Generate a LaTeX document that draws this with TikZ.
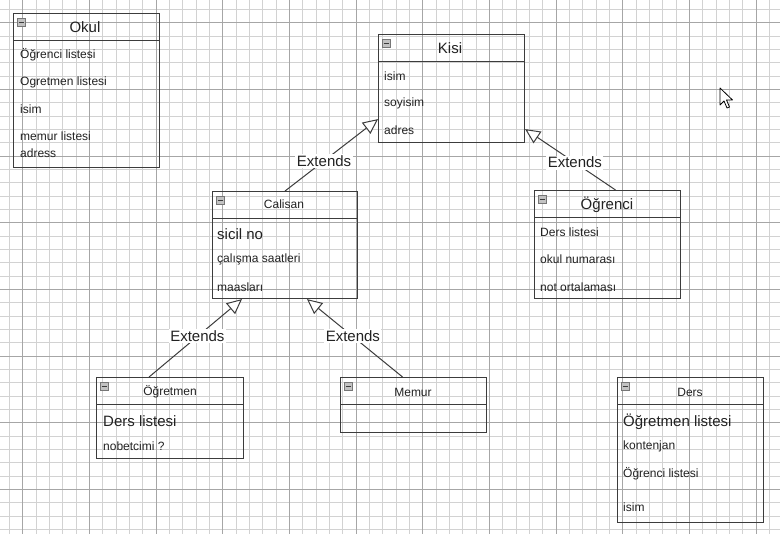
\documentclass[tikz,border=0pt]{standalone}
\usepackage{fontspec}
\setmainfont{Liberation Sans}
\usetikzlibrary{arrows.meta}
\usetikzlibrary{calc}

\definecolor{boxgray}{HTML}{3C3C3C}
\definecolor{gridminor}{HTML}{D2D2D2}
\definecolor{gridmajor}{HTML}{A6A6A6}
\definecolor{textgray}{HTML}{222222}
\definecolor{icongray}{HTML}{9A9A9A}

\tikzset{
  classbox/.style={draw=boxgray,line width=1.1pt,rectangle,anchor=north west,inner sep=0pt},
  headline/.style={draw=boxgray,line width=1.6pt},
  iconbox/.style={draw=boxgray!70,fill=icongray!60,line width=0.5pt},
  attr/.style={anchor=west,inner sep=0pt,text=textgray,font=\fontsize{12}{14}\selectfont},
  bigattr/.style={attr,font=\fontsize{15}{17}\selectfont},
  classname/.style={inner sep=0pt,text=textgray,font=\fontsize{12}{14}\selectfont},
  bigclassname/.style={classname,font=\fontsize{15}{17}\selectfont},
  extends/.style={draw=boxgray,line width=1pt,-{Triangle[length=15pt,width=14pt,fill=white,line width=1pt]}},
  extlabel/.style={fill=white,inner sep=1.5pt,text=textgray,font=\fontsize{15}{17}\selectfont},
}

\begin{document}
\begin{tikzpicture}[x=1pt,y=-1pt]
\useasboundingbox (0,0) rectangle (780,534);
\fill[white] (0,0) rectangle (780,534);
% grid
\foreach \i in {0,...,58} \draw[gridminor,line width=0.6pt] ({9.4+13.333*\i},0) -- ++(0,534);
\foreach \j in {0,...,39} \draw[gridminor,line width=0.6pt] (0,{9.4+13.333*\j}) -- ++(780,0);
\foreach \i in {0,...,11} \draw[gridmajor,line width=0.8pt] ({22.7+66.667*\i},0) -- ++(0,534);
\foreach \j in {0,...,7} \draw[gridmajor,line width=0.8pt] (0,{22.7+66.667*\j}) -- ++(780,0);

% class boxes
\draw (13,13) node (okul) [classbox,minimum width=146pt,minimum height=154pt] {};
\draw (378,34) node (kisi) [classbox,minimum width=146pt,minimum height=108pt] {};
\draw (212,191) node (calisan) [classbox,minimum width=145pt,minimum height=107pt] {};
\draw (534,190) node (ogrenci) [classbox,minimum width=146pt,minimum height=108pt] {};
\draw (96,377) node (ogretmen) [classbox,minimum width=147pt,minimum height=81pt] {};
\draw (340,377) node (memur) [classbox,minimum width=146pt,minimum height=55pt] {};
\draw (617,377) node (ders) [classbox,minimum width=146pt,minimum height=145pt] {};
\foreach \c in {okul,kisi,calisan,ogrenci,ogretmen,memur,ders} {
  \draw[headline] ($(\c.north west)+(0,27.5)$) -- ($(\c.north east)+(0,27.5)$);
  \draw[iconbox] ($(\c.north west)+(4,5)$) rectangle ++(8,8);
  \draw[boxgray,line width=0.9pt] ($(\c.north west)+(5.5,9)$) -- ++(5,0);
}

% Okul
\draw (85,27) node (okulname) [bigclassname] {Okul};
\draw (20,55) node (okul1) [attr] {Öğrenci listesi};
\draw (20,82) node (okul2) [attr] {Ogretmen listesi};
\draw (20,109) node (okul3) [attr] {isim};
\draw (20,136) node (okul4) [attr] {memur listesi};
\draw (20,153) node (okul5) [attr] {adress};
% Kisi
\draw (450,48) node (kisiname) [bigclassname] {Kisi};
\draw (384,76) node (kisi1) [attr] {isim};
\draw (384,103) node (kisi2) [attr] {soyisim};
\draw (384,130) node (kisi3) [attr] {adres};
% Calisan
\draw (284,204) node (calisanname) [classname] {Calisan};
\draw (217,234) node (calisan1) [bigattr] {sicil no};
\draw (217,259) node (calisan2) [attr] {çalışma saatleri};
\draw (217,287) node (calisan3) [attr] {maasları};
% Ogrenci
\draw (607,205) node (ogrenciname) [bigclassname] {Öğrenci};
\draw (540,232) node (ogrenci1) [attr] {Ders listesi};
\draw (540,259) node (ogrenci2) [attr] {okul numarası};
\draw (540,287) node (ogrenci3) [attr] {not ortalaması};
% Ogretmen
\draw (170,392) node (ogretmenname) [classname] {Öğretmen};
\draw (103,421) node (ogretmen1) [bigattr] {Ders listesi};
\draw (103,446) node (ogretmen2) [attr] {nobetcimi ?};
% Memur
\draw (413,392) node (memurname) [classname] {Memur};
% Ders
\draw (690,392) node (dersname) [classname] {Ders};
\draw (623,422) node (ders1) [bigattr] {Öğretmen listesi};
\draw (623,446) node (ders2) [attr] {kontenjan};
\draw (623,474) node (ders3) [attr] {Öğrenci listesi};
\draw (623,507) node (ders4) [attr] {isim};

% generalisations
\draw[extends] (calisan.north) -- ($(kisi.south west)+(0,-24)$) node (ext1) [extlabel,pos=0.42] {Extends};
\draw[extends] ($(ogrenci.north)+(8,0)$) -- ($(kisi.south east)+(0,-14)$) node (ext2) [extlabel,pos=0.45] {Extends};
\draw[extends] ($(ogretmen.north)+(-21,0)$) -- ($(calisan.south west)+(30,0)$) node (ext3) [extlabel,pos=0.52] {Extends};
\draw[extends] ($(memur.north)+(-11,0)$) -- ($(calisan.south west)+(95,0)$) node (ext4) [extlabel,pos=0.52] {Extends};

% mouse pointer
\draw[black,fill=white,line width=0.8pt,line join=round] (720,88) -- ++(0,17) -- ++(4,-4) -- ++(3,7) -- ++(2.5,-1) -- ++(-3,-7) -- ++(6,0) -- cycle;
\end{tikzpicture}
\end{document}
